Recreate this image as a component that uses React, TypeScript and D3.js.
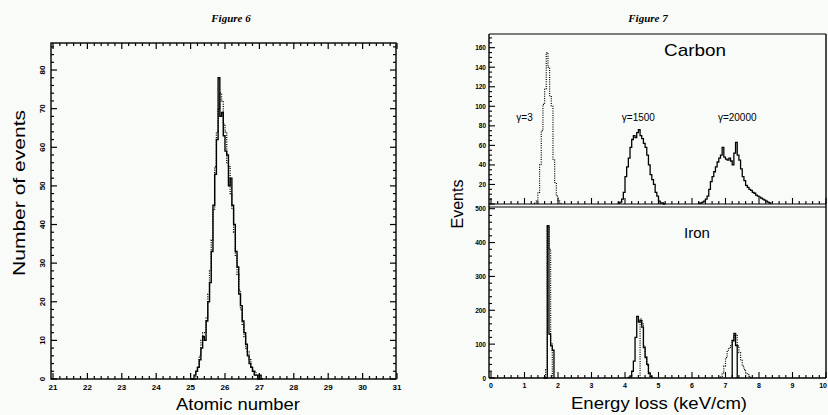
import React, { useEffect, useRef } from 'react';
import * as d3 from 'd3';

const W = 828;
const H = 415;

// Figure 6 - atomic number, bins of 0.05 starting at 25.0
const zStart = 25.0;
const zWidth = 0.05;
const zSolid = [0, 0, 1, 2, 3, 5, 8, 11, 10, 15, 20, 25, 33, 45, 53, 62, 78, 68, 69, 63, 59, 58, 50, 52, 45, 40, 33, 29, 22, 19, 15, 12, 9, 6, 4, 3, 2, 1, 1, 0, 1, 0];
const zDotted = [0, 0, 0, 2, 3, 6, 10, 12, 12, 16, 22, 28, 36, 44, 55, 64, 70, 74, 72, 66, 64, 56, 55, 48, 44, 38, 32, 27, 23, 18, 14, 11, 8, 7, 5, 3, 2, 2, 1, 1, 0, 0];
const zTicks = [21, 22, 23, 24, 25, 26, 27, 28, 29, 30, 31];
const nTicks = [0, 10, 20, 30, 40, 50, 60, 70, 80];

// Figure 7 - energy loss, bins of 0.05 keV/cm
const eWidth = 0.05;
const eTicks = [0, 1, 2, 3, 4, 5, 6, 7, 8, 9, 10];
const carbonTicks = [20, 40, 60, 80, 100, 120, 140, 160];
const ironTicks = [0, 100, 200, 300, 400, 500];

const carbonG3Start = 1.30;
const carbonG3 = [1, 3, 12, 40, 75, 102, 118, 155, 140, 110, 100, 45, 22, 8, 3, 1];
const carbonG1500Start = 3.80;
const carbonG1500 = [1, 2, 5, 12, 28, 38, 47, 58, 66, 70, 68, 73, 76, 70, 67, 62, 58, 50, 40, 30, 25, 20, 12, 8, 3, 1, 1, 0];
const carbonG20000Start = 6.20;
const carbonG20000 = [1, 1, 2, 3, 5, 8, 15, 23, 28, 33, 38, 43, 47, 50, 58, 48, 46, 45, 47, 44, 40, 52, 63, 50, 45, 36, 28, 24, 19, 17, 15, 14, 12, 11, 9, 8, 7, 6, 5, 4, 3, 2, 1];

const ironG3Start = 1.58;
const ironG3Dotted = [5, 25, 450, 380, 100, 0];
const ironG3Solid = [0, 0, 450, 130, 95, 82];
const ironG1500Start = 4.10;
const ironG1500 = [2, 6, 20, 50, 120, 182, 165, 170, 150, 90, 60, 40, 15, 5];
const ironG1500DotStart = 4.45;
const ironG1500Dotted = [175, 160, 95, 65, 38, 12, 3];
const ironG20000Start = 6.80;
const ironG20000 = [2, 5, 15, 35, 60, 82, 90, 95, 112, 125, 128, 95, 75, 52, 35, 25, 15, 10, 5, 2];
const ironG20000SolidStart = 7.20;
const ironG20000Solid = [110, 132, 96];

const gammaLabels = [
  { text: 'γ=3', x: 1.0 },
  { text: 'γ=1500', x: 4.4 },
  { text: 'γ=20000', x: 7.35 },
];

const SANS = '"Liberation Sans", Arial, sans-serif';
const SERIF = '"Liberation Serif", "Times New Roman", serif';

function histPath(x: any, y: any, start: number, width: number, values: number[]) {
  let d = `M${x(start)},${y(0)}`;
  values.forEach((v, i) => {
    d += `V${y(v)}H${x(start + (i + 1) * width)}`;
  });
  d += `V${y(0)}`;
  return d;
}

export default function App() {
  const ref = useRef<SVGSVGElement>(null);

  useEffect(() => {
    const svg = d3.select(ref.current);
    svg.selectAll('*').remove();
    svg.append('rect').attr('width', W).attr('height', H).attr('fill', '#f8fbf8');

    // ---------- Figure 6 ----------
    const x6 = d3.scaleLinear().domain([21, 31]).range([53, 397]);
    const y6 = d3.scaleLinear().domain([0, 87]).range([379, 43]);
    const g6 = svg.append('g');

    g6.append('rect').attr('x', 51).attr('y', 43).attr('width', 345).attr('height', 336)
      .attr('fill', 'none').attr('stroke', '#000').attr('stroke-width', 1.4);

    // x ticks (bottom + top), minor every 0.2
    d3.range(21, 31.0001, 0.2).forEach(v => {
      const major = Math.abs(v - Math.round(v)) < 1e-6;
      const len = major ? 6 : 3;
      g6.append('line').attr('x1', x6(v)).attr('x2', x6(v)).attr('y1', y6(0)).attr('y2', y6(0) - len).attr('stroke', '#000').attr('stroke-width', 1.2);
      g6.append('line').attr('x1', x6(v)).attr('x2', x6(v)).attr('y1', 43).attr('y2', 43 + len).attr('stroke', '#000').attr('stroke-width', 1.2);
    });
    // y ticks (left + right), minor every 2
    d3.range(0, 87, 2).forEach(v => {
      const major = v % 10 === 0;
      const len = major ? 6 : 3;
      g6.append('line').attr('x1', 51).attr('x2', 51 + len).attr('y1', y6(v)).attr('y2', y6(v)).attr('stroke', '#000').attr('stroke-width', 1.2);
      g6.append('line').attr('x1', 396).attr('x2', 396 - len).attr('y1', y6(v)).attr('y2', y6(v)).attr('stroke', '#000').attr('stroke-width', 1.2);
    });

    zTicks.forEach(v => {
      g6.append('text').attr('x', x6(v)).attr('y', 390).attr('text-anchor', 'middle')
        .attr('font-family', SANS).attr('font-size', 8).attr('font-weight', 700).text(v);
    });
    nTicks.forEach(v => {
      const yy = y6(v);
      g6.append('text').attr('x', 45).attr('y', yy).attr('transform', `rotate(-90,45,${yy})`)
        .attr('text-anchor', 'middle').attr('font-family', SANS).attr('font-size', 8).attr('font-weight', 700).text(v);
    });

    g6.append('path').attr('d', histPath(x6, y6, zStart, zWidth, zDotted))
      .attr('fill', 'none').attr('stroke', '#000').attr('stroke-width', 1.3).attr('stroke-dasharray', '1,1.3');
    g6.append('path').attr('d', histPath(x6, y6, zStart, zWidth, zSolid))
      .attr('fill', 'none').attr('stroke', '#000').attr('stroke-width', 1.4);

    g6.append('text').attr('x', 238).attr('y', 410).attr('text-anchor', 'middle')
      .attr('font-family', SANS).attr('font-size', 17).attr('textLength', 124).attr('lengthAdjust', 'spacingAndGlyphs')
      .text('Atomic number');
    g6.append('text').attr('x', 0).attr('y', 0).attr('transform', 'translate(25,193) rotate(-90)')
      .attr('text-anchor', 'middle').attr('font-family', SANS).attr('font-size', 17)
      .attr('textLength', 166).attr('lengthAdjust', 'spacingAndGlyphs').text('Number of events');
    g6.append('text').attr('x', 231).attr('y', 22).attr('text-anchor', 'middle')
      .attr('font-family', SERIF).attr('font-style', 'italic').attr('font-weight', 700).attr('font-size', 11)
      .text('Figure 6');

    // ---------- Figure 7 ----------
    const x7 = d3.scaleLinear().domain([0, 10]).range([491, 826]);
    const yC = d3.scaleLinear().domain([0, 174]).range([204, 34]);
    const yF = d3.scaleLinear().domain([0, 505]).range([378, 207]);
    const g7 = svg.append('g');

    // frame
    g7.append('line').attr('x1', 489).attr('x2', 826).attr('y1', 34).attr('y2', 34).attr('stroke', '#000').attr('stroke-width', 1);
    g7.append('line').attr('x1', 489).attr('x2', 489).attr('y1', 34).attr('y2', 378).attr('stroke', '#000').attr('stroke-width', 1.4);
    g7.append('line').attr('x1', 826).attr('x2', 826).attr('y1', 34).attr('y2', 378).attr('stroke', '#000').attr('stroke-width', 1.4);
    g7.append('line').attr('x1', 489).attr('x2', 826).attr('y1', yC(0)).attr('y2', yC(0)).attr('stroke', '#000').attr('stroke-width', 1.2);
    g7.append('line').attr('x1', 489).attr('x2', 826).attr('y1', 207).attr('y2', 207).attr('stroke', '#000').attr('stroke-width', 1.2);
    g7.append('line').attr('x1', 489).attr('x2', 826).attr('y1', yF(0)).attr('y2', yF(0)).attr('stroke', '#000').attr('stroke-width', 1.4);

    d3.range(0, 10.0001, 0.2).forEach(v => {
      const major = Math.abs(v - Math.round(v)) < 1e-6;
      const len = major ? 6 : 3;
      [yC(0), yF(0)].forEach(base => {
        g7.append('line').attr('x1', x7(v)).attr('x2', x7(v)).attr('y1', base).attr('y2', base - len).attr('stroke', '#000').attr('stroke-width', 1.1);
      });
    });
    d3.range(0, 171, 5).forEach(v => {
      const len = v % 20 === 0 ? 6 : 3;
      g7.append('line').attr('x1', 489).attr('x2', 489 + len).attr('y1', yC(v)).attr('y2', yC(v)).attr('stroke', '#000').attr('stroke-width', 1.1);
    });
    d3.range(0, 501, 20).forEach(v => {
      const len = v % 100 === 0 ? 6 : 3;
      g7.append('line').attr('x1', 489).attr('x2', 489 + len).attr('y1', yF(v)).attr('y2', yF(v)).attr('stroke', '#000').attr('stroke-width', 1.1);
    });

    eTicks.forEach(v => {
      const last = v === eTicks[eTicks.length - 1];
      g7.append('text').attr('x', last ? W - 1 : x7(v)).attr('y', 388).attr('text-anchor', last ? 'end' : 'middle')
        .attr('font-family', SANS).attr('font-size', 7).attr('font-weight', 700).text(v);
    });
    carbonTicks.forEach(v => {
      g7.append('text').attr('x', 486).attr('y', yC(v) + 2.5).attr('text-anchor', 'end')
        .attr('font-family', SANS).attr('font-size', 6.5).attr('font-weight', 700).text(v);
    });
    ironTicks.forEach(v => {
      g7.append('text').attr('x', 486).attr('y', yF(v) + 2.5).attr('text-anchor', 'end')
        .attr('font-family', SANS).attr('font-size', 6.5).attr('font-weight', 700).text(v);
    });

    const dotted = (p: any) => p.attr('fill', 'none').attr('stroke', '#000').attr('stroke-width', 1.2).attr('stroke-dasharray', '1,1.3');
    const solid = (p: any) => p.attr('fill', 'none').attr('stroke', '#000').attr('stroke-width', 1.3);

    g7.append('path').attr('d', histPath(x7, yC, carbonG3Start, eWidth, carbonG3)).call(dotted);
    g7.append('path').attr('d', histPath(x7, yC, carbonG1500Start, eWidth, carbonG1500)).call(solid);
    g7.append('path').attr('d', histPath(x7, yC, carbonG20000Start, eWidth, carbonG20000)).call(solid);

    g7.append('path').attr('d', histPath(x7, yF, ironG3Start, eWidth, ironG3Dotted)).call(dotted);
    g7.append('path').attr('d', histPath(x7, yF, ironG3Start, eWidth, ironG3Solid)).call(solid);
    g7.append('path').attr('d', histPath(x7, yF, ironG1500Start, eWidth, ironG1500)).call(solid);
    g7.append('path').attr('d', histPath(x7, yF, ironG1500DotStart, eWidth, ironG1500Dotted)).call(dotted);
    g7.append('path').attr('d', histPath(x7, yF, ironG20000Start, eWidth, ironG20000)).call(dotted);
    g7.append('path').attr('d', histPath(x7, yF, ironG20000SolidStart, eWidth, ironG20000Solid)).call(solid);

    gammaLabels.forEach(l => {
      g7.append('text').attr('x', x7(l.x)).attr('y', 121).attr('text-anchor', 'middle')
        .attr('font-family', SANS).attr('font-size', 10).text(l.text);
    });

    g7.append('text').attr('x', 695).attr('y', 56).attr('text-anchor', 'middle')
      .attr('font-family', SANS).attr('font-size', 17).attr('textLength', 62).attr('lengthAdjust', 'spacingAndGlyphs').text('Carbon');
    g7.append('text').attr('x', 697).attr('y', 238).attr('text-anchor', 'middle')
      .attr('font-family', SANS).attr('font-size', 15).text('Iron');
    g7.append('text').attr('x', 659).attr('y', 409).attr('text-anchor', 'middle')
      .attr('font-family', SANS).attr('font-size', 16).attr('textLength', 176).attr('lengthAdjust', 'spacingAndGlyphs')
      .text('Energy loss (keV/cm)');
    g7.append('text').attr('x', 0).attr('y', 0).attr('transform', 'translate(463,204) rotate(-90)')
      .attr('text-anchor', 'middle').attr('font-family', SANS).attr('font-size', 16).text('Events');
    g7.append('text').attr('x', 648).attr('y', 22).attr('text-anchor', 'middle')
      .attr('font-family', SERIF).attr('font-style', 'italic').attr('font-weight', 700).attr('font-size', 11)
      .text('Figure 7');
  }, []);

  return (
    <svg ref={ref} width={W} height={H}
      style={{ position: 'absolute', left: 0, top: 0, display: 'block' }} />
  );
}
